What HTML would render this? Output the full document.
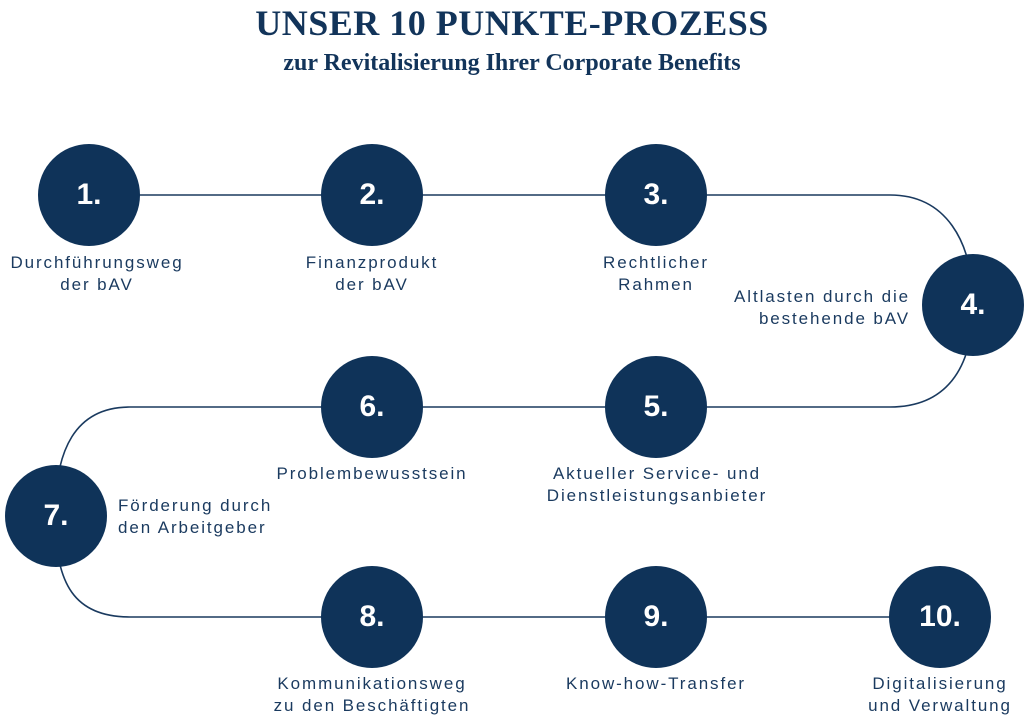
<!DOCTYPE html>
<html><head><meta charset="utf-8"><style>
body{margin:0;width:1024px;height:713px;background:#fff;overflow:hidden;position:relative;font-family:"Liberation Sans",sans-serif;color:#1a3a5f}
.t{position:absolute;left:0;width:1024px;text-align:center;font-family:"Liberation Serif",serif;font-weight:bold;color:#12345a}
.c{position:absolute;width:102px;height:102px;border-radius:50%;background:#0f3359;color:#fff;font-weight:bold;font-size:30px;display:flex;align-items:center;justify-content:center}
.l{position:absolute;font-size:17px;letter-spacing:1.9px;line-height:22px;text-align:center;width:300px;white-space:nowrap}
</style></head><body>
<div class="t" style="top:2px;font-size:36px;letter-spacing:0.5px">UNSER 10 PUNKTE-PROZESS</div>
<div class="t" style="top:50px;font-size:24px">zur Revitalisierung Ihrer Corporate Benefits</div>
<svg width="1024" height="713" style="position:absolute;left:0;top:0">
<path d="M89,195 H890 C945,195 973,240 973,305 C973,370 945,407 890,407 H130 C75,407 55,450 55,516 C55,585 75,617 130,617 H940" fill="none" stroke="#1a3a5f" stroke-width="1.6"/>
</svg>
<div class="c" style="left:38px;top:144px">1.</div>
<div class="c" style="left:321px;top:144px">2.</div>
<div class="c" style="left:605px;top:144px">3.</div>
<div class="c" style="left:922px;top:254px">4.</div>
<div class="c" style="left:605px;top:356px">5.</div>
<div class="c" style="left:321px;top:356px">6.</div>
<div class="c" style="left:5px;top:465px">7.</div>
<div class="c" style="left:321px;top:566px">8.</div>
<div class="c" style="left:605px;top:566px">9.</div>
<div class="c" style="left:889px;top:566px">10.</div>
<div class="l" style="left:0px;top:252px;width:194px">Durchführungsweg<br>der bAV</div>
<div class="l" style="left:222px;top:252px">Finanzprodukt<br>der bAV</div>
<div class="l" style="left:506px;top:252px">Rechtlicher<br>Rahmen</div>
<div class="l" style="left:610px;top:286px;text-align:right;width:300px">Altlasten durch die<br>bestehende bAV</div>
<div class="l" style="left:507px;top:463px">Aktueller Service- und<br>Dienstleistungsanbieter</div>
<div class="l" style="left:222px;top:463px">Problembewusstsein</div>
<div class="l" style="left:118px;top:495px;text-align:left">Förderung durch<br>den Arbeitgeber</div>
<div class="l" style="left:222px;top:673px">Kommunikationsweg<br>zu den Beschäftigten</div>
<div class="l" style="left:506px;top:673px">Know-how-Transfer</div>
<div class="l" style="left:790px;top:673px">Digitalisierung<br>und Verwaltung</div>
</body></html>
